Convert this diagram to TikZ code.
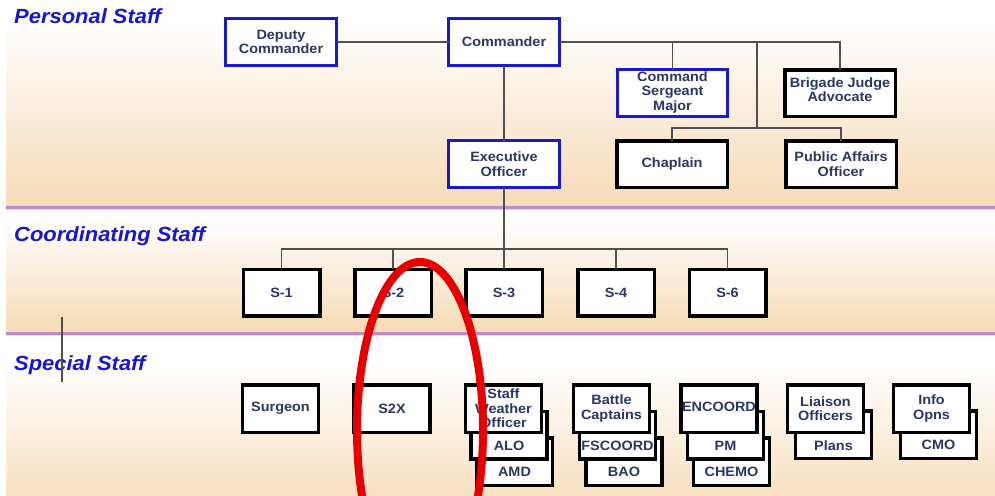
\documentclass[tikz,border=0pt]{standalone}
\usepackage{fontspec}
\setmainfont{Liberation Sans}[FakeStretch=1.07]
\usetikzlibrary{calc}
\definecolor{peach}{RGB}{247,221,186}
\definecolor{bandline}{RGB}{190,140,200}
\definecolor{bandpink}{RGB}{245,215,230}
\definecolor{txtc}{RGB}{42,55,100}
\definecolor{ttlc}{RGB}{22,22,215}
\definecolor{bluec}{RGB}{25,25,205}
\definecolor{connc}{RGB}{80,80,80}
\definecolor{ovalc}{RGB}{232,0,0}
\newcommand\bxfont{\fontsize{13.5}{14.5}\selectfont\bfseries}
\newcommand\ttlfont{\fontsize{20.5}{22}\selectfont\bfseries\itshape}
\begin{document}
\begin{tikzpicture}[x=1pt,y=-1pt,
  box/.style={draw=black, line width=3.5pt, fill=white, minimum width=76pt, minimum height=47.5pt,
    inner sep=1pt, outer sep=0pt, align=center, text=txtc, font=\bxfont},
  widebox/.style={box, minimum width=110.5pt, minimum height=46.5pt},
  bluebox/.style={widebox, draw=bluec, line width=3pt, minimum width=111pt, minimum height=47pt},
  sbox/.style={box, minimum width=76.5pt, minimum height=46.5pt},
  conn/.style={draw=connc, line width=1.3pt},
  ttl/.style={anchor=base west, text=ttlc, font=\ttlfont, inner sep=0pt},
  lbl/.style={text=txtc, font=\bxfont, inner sep=0pt, anchor=center},
]
\useasboundingbox (0,0) rectangle (995,495);
\clip (0,0) rectangle (995,495);
% background bands
\fill[white] (0,0) rectangle (995,495);
\shade[top color=white, bottom color=peach] (6,20) rectangle (995,196);
\fill[peach] (6,195) rectangle (995,206);
\draw[bandline, line width=3pt] (6,207) -- (995,207);
\draw[bandpink, line width=1.2pt] (6,209.2) -- (995,209.2);
\shade[top color=white, bottom color=peach] (6,218) rectangle (995,323);
\fill[peach] (6,322) rectangle (995,332);
\draw[bandline, line width=3pt] (6,333) -- (995,333);
\draw[bandpink, line width=1.2pt] (6,335.2) -- (995,335.2);
\shade[top color=white, bottom color=peach!90] (6,362) rectangle (995,495);

% titles
\node[ttl] (t1) at (14,24) {Personal Staff};
\node[ttl] (t2) at (14,241) {Coordinating Staff};
\node[ttl] (t3) at (14,370) {Special Staff};

% personal staff
\node[bluebox] (dep) at (281,42) {Deputy\\Commander};
\node[bluebox] (cmd) at (504,42) {Commander};
\node[bluebox] (xo) at (504,164) {Executive\\Officer};
\node[bluebox, minimum width=110pt, text depth=4pt] (csm) at (672.5,93) {Command\\Sergeant\\Major};
\node[widebox, text depth=7pt] (bja) at (840,93) {Brigade Judge\\Advocate};
\node[widebox] (chap) at (672,164) {Chaplain};
\node[widebox] (pao) at (841,164) {Public Affairs\\Officer};

\coordinate (j1) at (840,42);
\coordinate (j2) at (757,42);
\coordinate (j3) at (757,128);
\draw[conn] (dep.east) -- (cmd.west);
\draw[conn] (cmd.east) -- (j1) -- (bja.north);
\draw[conn] (cmd.east -| csm.north) -- (csm.north);
\draw[conn] (j2) -- (j3);
\draw[conn] (chap.north) -- (chap.north |- j3) -- (pao.north |- j3) -- (pao.north);
\draw[conn] (cmd.south) -- (xo.north);

% coordinating staff
\node[sbox] (s1) at (281.5,292.5) {S-1};
\node[sbox] (s2) at (393,292.5) {S-2};
\node[sbox] (s3) at (504,292.5) {S-3};
\node[sbox] (s4) at (616,292.5) {S-4};
\node[sbox] (s6) at (727.5,292.5) {S-6};
\coordinate (bus) at (504,249);
\draw[conn] (xo.south) -- (s3.north);
\draw[conn] (s1.north) -- (s1.north |- bus) -- (s6.north |- bus) -- (s6.north);
\draw[conn] (s2.north) -- (s2.north |- bus);
\draw[conn] (s4.north) -- (s4.north |- bus);

% stray mark
\coordinate (st1) at (62,317);
\coordinate (st2) at (62,382);
\draw[conn] (st1) -- (st2);

% special staff
\node[box] (surg) at (280.5,408.5) {Surgeon};
\node[box] (s2x) at (392,408.5) {S2X};

\node[box, label={[lbl,yshift=13pt]south:AMD}] (amd) at (514.5,461.5) {};
\node[box, label={[lbl,yshift=13pt]south:ALO}] (alo) at (509,435) {};
\node[box] (swo) at (503.5,408.5) {Staff\\Weather\\Officer};

\node[box, label={[lbl,yshift=13pt]south:BAO}] (bao) at (624,461.5) {};
\node[box, label={[lbl,yshift=13pt]south:FSCOORD}] (fsc) at (617.5,435) {};
\node[box] (bc) at (611.5,408.5) {Battle\\Captains};

\node[box, label={[lbl,yshift=13pt]south:CHEMO}] (chemo) at (731.5,461.5) {};
\node[box, label={[lbl,yshift=13pt]south:PM}] (pm) at (725.5,435) {};
\node[box, text depth=4pt] (enc) at (719,408.5) {ENCOORD};

\node[box, label={[lbl,yshift=13pt]south:Plans}] (plans) at (833.5,434.5) {};
\node[box] (lo) at (825.5,408.5) {Liaison\\Officers};

\node[box, label={[lbl,yshift=13pt]south:CMO}] (cmo) at (938.5,434.5) {};
\node[box] (io) at (931.5,408.5) {Info\\Opns};

% red oval
\draw[ovalc, line width=8pt] (420,430) ellipse [x radius=63, y radius=168];
\end{tikzpicture}
\end{document}
